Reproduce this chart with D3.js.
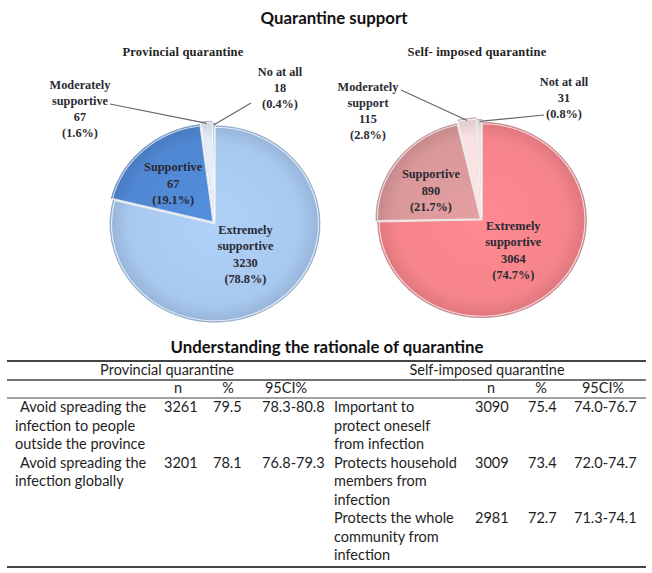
<!DOCTYPE html>
<html><head><meta charset="utf-8">
<script src="https://cdn.jsdelivr.net/npm/d3@7"></script>
<style>
html,body{margin:0;padding:0;background:#fff;}
svg{display:block;}
</style></head>
<body>
<svg id="c" width="652" height="573"></svg>
<script>
// ---------- DATA ----------
const chartTitle = "Quarantine support";
const pieTitles = ["Provincial quarantine", "Self- imposed quarantine"];

const provCategories = ["Extremely supportive", "Supportive", "Moderately supportive", "No at all"];
const provCounts = [3230, 67, 67, 18];
const provPercents = [78.8, 19.1, 1.6, 0.4];

const selfCategories = ["Extremely supportive", "Supportive", "Moderately support", "Not at all"];
const selfCounts = [3064, 890, 115, 31];
const selfPercents = [74.7, 21.7, 2.8, 0.8];

const tableTitle = "Understanding the rationale of quarantine";
const tableGroups = ["Provincial quarantine", "Self-imposed quarantine"];
const tableColumns = ["n", "%", "95CI%"];

const provReasons = [
  ["Avoid spreading the", "infection to people", "outside the province"],
  ["Avoid spreading the", "infection globally"]
];
const provN = ["3261", "3201"];
const provPct = ["79.5", "78.1"];
const provCI = ["78.3-80.8", "76.8-79.3"];

const selfReasons = [
  ["Important to", "protect oneself", "from infection"],
  ["Protects household", "members from", "infection"],
  ["Protects the whole", "community from", "infection"]
];
const selfN = ["3090", "3009", "2981"];
const selfPct = ["75.4", "73.4", "72.7"];
const selfCI = ["74.0-76.7", "72.0-74.7", "71.3-74.1"];

// ---------- DRAW ----------
const svg = d3.select("#c");
const defs = svg.append("defs");
const serif = "'Liberation Serif', 'DejaVu Serif', serif";
const sans = "Lato, 'Open Sans', sans-serif";

svg.append("text").attr("x", 334).attr("y", 24).attr("text-anchor", "middle")
  .attr("font-family", sans).attr("font-weight", 700).attr("font-size", 16.8).attr("fill", "#111")
  .text(chartTitle);

const pies = [
  { cats: provCategories, counts: provCounts, pcts: provPercents, title: pieTitles[0],
    cx: 215, cy: 224, r: 105, sy: 0.935, titleX: 183,
    colors: ["#a8c8ef", "#5088d4", "#e2ebf7", "#c9d7ec"], edge: "#7f97b8",
    explode: [0, 3, 5, 3],
    inner: [{r: 0.47, dy: -6}, {r: 0.6, dy: 4}],
    outer: [null, null, {x: 80, y: 85, ax: 110, ay: 104}, {x: 280, y: 72, ax: 251, ay: 103}] },
  { cats: selfCategories, counts: selfCounts, pcts: selfPercents, title: pieTitles[1],
    cx: 482, cy: 220, r: 104.5, sy: 0.935, titleX: 477,
    colors: ["#f6848b", "#da989a", "#f7e0df", "#eee4e4"], edge: "#a88a8a",
    explode: [0, 2, 5, 3],
    inner: [{r: 0.42, dy: 2}, {r: 0.62, dy: 8}],
    outer: [null, null, {x: 368, y: 87, ax: 401, ay: 90}, {x: 564, y: 82, ax: 544, ay: 115}] }
];

const pieGen = d3.pie().sort(null).value(d => d.v);

pies.forEach((p, pi) => {
  svg.append("text").attr("x", p.titleX).attr("y", 56).attr("text-anchor", "middle")
    .attr("font-family", serif).attr("font-weight", 700).attr("font-size", 12.5).attr("fill", "#222")
    .attr("letter-spacing", 0.2)
    .text(p.title);

  const data = p.cats.map((c, i) => ({ c, n: p.counts[i], v: p.pcts[i], i }));
  const arcs = pieGen(data);
  const arc = d3.arc().innerRadius(0).outerRadius(p.r);

  const g = svg.append("g").attr("transform", `translate(${p.cx},${p.cy}) scale(1,${p.sy})`);

  arcs.forEach((a, i) => {
    const gid = `grad${pi}_${i}`;
    const col = d3.color(p.colors[i]);
    const gr = defs.append("radialGradient").attr("id", gid)
      .attr("gradientUnits", "userSpaceOnUse").attr("cx", 0).attr("cy", 0).attr("r", p.r);
    gr.append("stop").attr("offset", "0%").attr("stop-color", col.brighter(0.12));
    gr.append("stop").attr("offset", "82%").attr("stop-color", col);
    gr.append("stop").attr("offset", "100%").attr("stop-color", col.darker(0.3));
    const mid = (a.startAngle + a.endAngle) / 2;
    const ex = p.explode[i];
    g.append("path")
      .attr("transform", `translate(${Math.sin(mid) * ex},${-Math.cos(mid) * ex})`)
      .attr("d", arc(a))
      .attr("fill", `url(#${gid})`)
      .attr("stroke", p.edge).attr("stroke-width", 0.8).attr("stroke-opacity", 0.8);
  });
  arcs.forEach((a, i) => {
    const mid = (a.startAngle + a.endAngle) / 2;
    const ex = p.explode[i];
    g.append("path")
      .attr("transform", `translate(${Math.sin(mid) * ex},${-Math.cos(mid) * ex})`)
      .attr("d", d3.arc().innerRadius(0).outerRadius(p.r - 1.5)(a))
      .attr("fill", "none").attr("stroke", "#fff").attr("stroke-width", 1.2).attr("stroke-opacity", 0.7);
  });

  // inner labels (first two slices)
  [0, 1].forEach(i => {
    const a = arcs[i];
    const mid = (a.startAngle + a.endAngle) / 2;
    const rr = p.r * p.inner[i].r;
    const x = p.cx + Math.sin(mid) * rr;
    const y = p.cy - Math.cos(mid) * rr * p.sy + p.inner[i].dy;
    const words = a.data.c.split(" ");
    const lines = [...words, String(a.data.n), `(${a.data.v}%)`];
    const lh = 16.5;
    const t = svg.append("text").attr("text-anchor", "middle")
      .attr("font-family", serif).attr("font-weight", 700).attr("font-size", 12.3).attr("fill", "#2a2a33");
    lines.forEach((l, k) => {
      t.append("tspan").attr("x", x).attr("y", y - (lines.length - 1) * lh / 2 + k * lh + 4).text(l);
    });
  });

  // outer labels with leader lines
  [2, 3].forEach(i => {
    const a = arcs[i];
    const o = p.outer[i];
    const mid = (a.startAngle + a.endAngle) / 2;
    const ex = p.explode[i];
    const rr = p.r + ex - 2;
    const px = p.cx + Math.sin(mid) * rr;
    const py = p.cy - Math.cos(mid) * rr * p.sy;
    svg.append("line").attr("x1", o.ax).attr("y1", o.ay).attr("x2", px).attr("y2", py)
      .attr("stroke", "#666").attr("stroke-width", 1.2);
    const words = a.data.c.split(" ");
    const lines = i === 2 ? [...words, String(a.data.n), `(${a.data.v}%)`]
                          : [a.data.c, String(a.data.n), `(${a.data.v}%)`];
    const lh = 16;
    const t = svg.append("text").attr("text-anchor", "middle")
      .attr("font-family", serif).attr("font-weight", 700).attr("font-size", 12.3).attr("fill", "#2a2a33");
    lines.forEach((l, k) => {
      t.append("tspan").attr("x", o.x).attr("y", o.y + k * lh + 4).text(l);
    });
  });
});

// ---------- TABLE ----------
const tx0 = 7, tx1 = 646;
const tc = "#1e1e1e";
svg.append("text").attr("x", 327).attr("y", 353).attr("text-anchor", "middle")
  .attr("font-family", sans).attr("font-weight", 700).attr("font-size", 16.8).attr("fill", "#111")
  .text(tableTitle);

const rule = (y, w) => svg.append("line").attr("x1", tx0).attr("x2", tx1).attr("y1", y).attr("y2", y)
  .attr("stroke", "#444").attr("stroke-width", w);
rule(361, 2); rule(380, 1.3); rule(398, 1); rule(567, 2);

const tfont = (sel) => sel.attr("font-family", sans).attr("font-size", 14.5).attr("fill", tc);

tfont(svg.append("text").attr("x", 167).attr("y", 375).attr("text-anchor", "middle")).text(tableGroups[0]);
tfont(svg.append("text").attr("x", 487).attr("y", 375).attr("text-anchor", "middle")).text(tableGroups[1]);

const colCentersL = [178, 228, 286];
const colCentersR = [491, 541, 603];
tableColumns.forEach((c, i) => {
  tfont(svg.append("text").attr("x", colCentersL[i]).attr("y", 393).attr("text-anchor", "middle")).text(c);
  tfont(svg.append("text").attr("x", colCentersR[i]).attr("y", 393).attr("text-anchor", "middle")).text(c);
});

const lineH = 18.5;
const rowTop = 412;
function drawBlock(reasons, ns, pcts, cis, xLabel, xN, xP, xC, indentFirst) {
  let line = 0;
  reasons.forEach((lines, r) => {
    const y0 = rowTop + line * lineH;
    lines.forEach((l, k) => {
      tfont(svg.append("text").attr("x", xLabel + (k === 0 ? indentFirst : 0)).attr("y", y0 + k * lineH)).text(l);
    });
    tfont(svg.append("text").attr("x", xN).attr("y", y0)).text(ns[r]);
    tfont(svg.append("text").attr("x", xP).attr("y", y0)).text(pcts[r]);
    tfont(svg.append("text").attr("x", xC).attr("y", y0)).text(cis[r]);
    line += lines.length;
  });
}
drawBlock(provReasons, provN, provPct, provCI, 15, 164, 213, 262, 5);
drawBlock(selfReasons, selfN, selfPct, selfCI, 334, 475, 528, 574, 0);
</script>
</body></html>
